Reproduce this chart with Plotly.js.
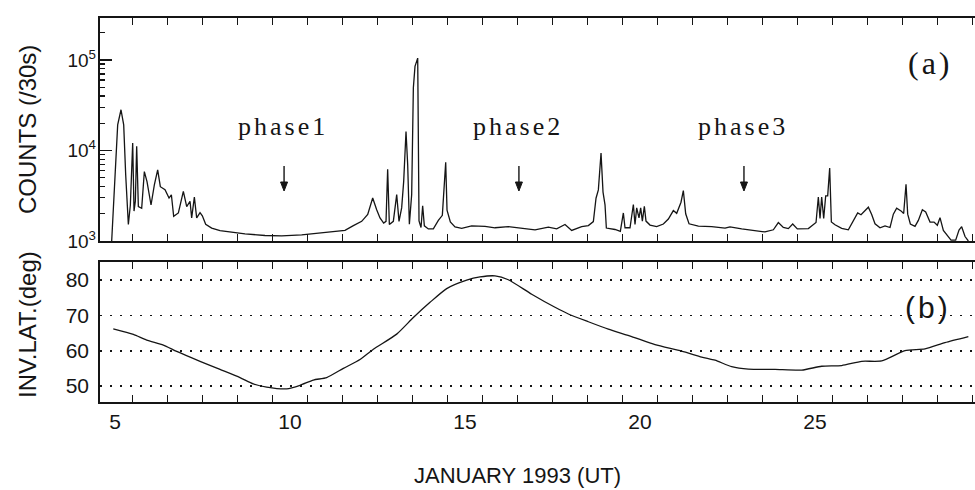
<!DOCTYPE html>
<html>
<head>
<meta charset="utf-8">
<script src="https://cdn.plot.ly/plotly-3.0.1.min.js"></script>
<style>html,body{margin:0;padding:0;background:#fff;}#chart{width:975px;height:490px;}</style>
</head>
<body>
<div id="chart"></div>
<script>
// ---- data ----
const countDays = [4.905, 4.98, 5.076, 5.171, 5.248, 5.305, 5.381, 5.438, 5.505, 5.543,
  5.581, 5.619, 5.667, 5.762, 5.838, 5.914, 6.029, 6.124, 6.219, 6.295,
  6.429, 6.543, 6.61, 6.676, 6.81, 6.952, 7.048, 7.143, 7.19, 7.267,
  7.333, 7.429, 7.495, 7.59, 7.762, 8.0, 8.333, 8.714, 9.286, 9.762,
  10.333, 10.905, 11.571, 11.81, 12.048, 12.22, 12.362, 12.476, 12.571, 12.676,
  12.743, 12.79, 12.838, 12.952, 13.048, 13.114, 13.19, 13.248, 13.314, 13.362,
  13.41, 13.476, 13.524, 13.571, 13.648, 13.686, 13.743, 13.79, 13.838, 13.952,
  14.095, 14.238, 14.352, 14.448, 14.486, 14.581, 14.714, 14.905, 15.19, 15.571,
  15.857, 16.238, 16.524, 16.81,
  17.0, 17.381, 17.619, 17.857, 18.048, 18.333, 18.524, 18.667, 18.743, 18.81,
  18.886, 18.943, 19.0, 19.038, 19.286, 19.438, 19.524, 19.571, 19.714, 19.81,
  19.857, 19.905, 19.971, 20.019, 20.067, 20.124, 20.171, 20.286, 20.476, 20.667,
  20.81, 20.952, 21.048, 21.171, 21.238, 21.305, 21.4, 21.667, 22.048, 22.429,
  22.571, 22.905, 23.286, 23.571, 23.81, 23.952, 24.095, 24.238, 24.362, 24.495,
  24.81, 25.029, 25.095, 25.143, 25.19, 25.248, 25.305, 25.362, 25.419, 25.467,
  25.571, 25.762, 25.952, 26.124, 26.219, 26.314, 26.429, 26.524, 26.619, 26.714,
  26.857, 27.0, 27.143, 27.238, 27.333, 27.457, 27.533, 27.6, 27.648, 27.724,
  27.857, 27.952, 28.067, 28.162, 28.286, 28.4, 28.495, 28.571, 28.667, 28.762,
  28.886, 29.019, 29.114, 29.19, 29.286, 29.381];
const counts = [1000, 3520, 19200, 28200, 19200, 5400, 1520, 2500, 12100, 2140,
  2760, 11100, 2400, 2300, 5850, 4540, 2500, 4170, 6100, 3980,
  3680, 2980, 3240, 1870, 2040, 3530, 2400, 2750, 1800, 3050,
  1800, 2060, 1900, 1530, 1390, 1300, 1250, 1200, 1150, 1140,
  1170, 1240, 1310, 1480, 1650, 1960, 2990, 2220, 1800, 1580,
  1650, 6200, 1520, 1650, 3260, 1650, 2320, 4560, 16200, 6960,
  1530, 3270, 49400, 85000, 105000, 1670, 1410, 2450, 1470, 1360,
  1360, 1690, 1920, 7430, 2190, 1620, 1430, 1380, 1470, 1450,
  1400, 1440, 1400, 1350,
  1330, 1420, 1360, 1520, 1310, 1440, 1480, 1640, 2970, 3670,
  9350, 3470, 2510, 1390, 1340, 1280, 2040, 1400, 1400, 2530,
  1520, 2320, 1800, 2320, 1660, 2420, 1660, 1500, 1440, 1540,
  1750, 2170, 2020, 2680, 3610, 2000, 1550, 1460, 1440, 1390,
  1430, 1360, 1290, 1260, 1330, 1600, 1410, 1370, 1540, 1360,
  1370, 1600, 3060, 1770, 3060, 1770, 3160, 3160, 6400, 1620,
  1510, 1380, 1330, 1720, 2040, 1950, 2160, 2360, 1960, 1550,
  1400, 1470, 1410, 1980, 2300, 2150, 2010, 4240, 1980, 1540,
  1450, 1690, 2210, 2090, 1620, 1620, 1490, 1810, 1310, 1160,
  1020, 1020, 1320, 1440, 1120, 1000];

const latDays = [4.95, 5.524, 5.905, 6.381, 6.762, 7.429, 8.0, 8.571, 8.952, 9.333,
  9.905, 10.286, 10.667, 11.048, 11.524, 12.0, 12.381, 13.048, 13.524, 14.0,
  14.476, 15.048, 15.429, 15.857, 16.238, 16.905, 17.571, 17.952, 18.524, 19.095,
  19.762, 20.429, 21.19, 21.762, 22.143, 22.619, 23.095, 23.857, 24.619, 25.19,
  25.762, 26.333, 26.905, 27.571, 28.143, 28.714, 29.381];
const invLat = [66.2, 64.6, 63.0, 61.6, 59.8, 57.0, 54.7, 52.4, 50.6, 49.7,
  49.2, 50.2, 51.7, 52.4, 55.0, 57.5, 60.4, 64.7, 69.4, 73.7,
  77.6, 80.0, 80.9, 81.2, 80.1, 76.0, 72.3, 70.4, 68.2, 66.1,
  64.0, 61.7, 59.9, 58.2, 57.3, 55.5, 54.8, 54.7, 54.5, 55.6,
  55.8, 57.0, 57.1, 60.0, 60.5, 62.3, 64.0];

const dayTicks = [5, 10, 15, 20, 25];
const dayLabels = ['5', '10', '15', '20', '25'];
const countDecades = [1e3, 1e4, 1e5];
const countLabels = ['10<sup>3</sup>', '10<sup>4</sup>', '10<sup>5</sup>'];
const countMinorTicks = [2e3, 3e3, 4e3, 5e3, 6e3, 7e3, 8e3, 9e3,
  2e4, 3e4, 4e4, 5e4, 6e4, 7e4, 8e4, 9e4, 2e5];
const latTicks = [50, 60, 70, 80];
const latLabels = ['50', '60', '70', '80'];
const phaseDays = [9.83, 16.54, 22.97];
const phaseLabels = ['phase1', 'phase2', 'phase3'];

// ---- styling ----
const INK = '#151515';
const SANS = 'Liberation Sans, Arial, Helvetica, sans-serif';
const SERIF = 'Liberation Serif, Times New Roman, serif';
const XRANGE = [4.571, 29.571];

const traces = [
  {x: countDays, y: counts, type: 'scatter', mode: 'lines', xaxis: 'x', yaxis: 'y',
   line: {color: INK, width: 1.3}, hoverinfo: 'skip'},
  {x: latDays, y: invLat, type: 'scatter', mode: 'lines', xaxis: 'x2', yaxis: 'y2',
   line: {color: INK, width: 1.3, shape: 'spline', smoothing: 0.6}, hoverinfo: 'skip'},
  // empty traces that only register the overlay label axes
  {x: [], y: [], type: 'scatter', mode: 'lines', xaxis: 'x', yaxis: 'y3', hoverinfo: 'skip'},
  {x: [], y: [], type: 'scatter', mode: 'lines', xaxis: 'x3', yaxis: 'y2', hoverinfo: 'skip'}
];

// day-boundary tick marks sit half a day after each labelled day
const xCommon = {
  range: XRANGE, showline: true, linecolor: INK, linewidth: 1.8,
  mirror: 'ticks', showgrid: false, zeroline: false, showticklabels: false,
  tickmode: 'linear', tick0: 5.5, dtick: 1,
  ticks: 'inside', ticklen: 7, tickwidth: 1.5, tickcolor: INK
};

const H = 490, T = 18, B = 88, PH = H - T - B;   // plot-area pixels
const py = v => (H - B - v) / PH;                 // pixel y -> paper
const px = v => (v - 100) / 875;                  // pixel x -> paper

const ann = (text, x, y, font, extra) => Object.assign({
  text: text, xref: 'paper', yref: 'paper', x: x, y: y, showarrow: false,
  xanchor: 'center', yanchor: 'middle', font: font}, extra || {});

const annotations = [];
const shapes = [];
phaseLabels.forEach((t, i) => {
  annotations.push(ann('<span style="letter-spacing:3px">' + t + '</span>', phaseDays[i] - 0.02, py(126),
    {family: SERIF, size: 26, color: INK}, {xref: 'x'}));
  shapes.push({type: 'line', xref: 'x', yref: 'paper', x0: phaseDays[i], x1: phaseDays[i],
    y0: py(166), y1: py(188), line: {color: INK, width: 1.4}});
  shapes.push({type: 'path', xref: 'x', yref: 'paper',
    path: 'M ' + (phaseDays[i] - 0.1) + ' ' + py(182) + ' L ' + phaseDays[i] + ' ' + py(191) +
          ' L ' + (phaseDays[i] + 0.1) + ' ' + py(182) + ' Z',
    fillcolor: INK, line: {color: INK, width: 1}});
});
annotations.push(ann('<span style="letter-spacing:3px">(a)</span>', px(930), py(63), {family: SERIF, size: 32, color: INK}));
annotations.push(ann('<span style="letter-spacing:3px">(b)</span>', px(928), py(307), {family: SANS, size: 30, color: INK}));
annotations.push(ann('COUNTS (/30s)', px(27), py(130), {family: SANS, size: 24, color: INK}, {textangle: -90}));
annotations.push(ann('INV.LAT.(deg)', px(27), py(325), {family: SANS, size: 24, color: INK}, {textangle: -90}));
annotations.push(ann('JANUARY 1993 (UT)', px(517), py(475), {family: SANS, size: 22, color: INK}));

const yTopDomain = [(402 - 241) / PH, 1];
const layout = {
  width: 975, height: 490,
  margin: {l: 100, r: 0, t: T, b: B, pad: 0},
  paper_bgcolor: '#ffffff', plot_bgcolor: '#ffffff', showlegend: false,
  font: {family: SANS, color: INK},
  xaxis: Object.assign({}, xCommon, {anchor: 'y'}),
  yaxis: {
    domain: yTopDomain, type: 'log', range: [3, 5.464],
    showline: true, linecolor: INK, linewidth: 1.8, zeroline: false, showgrid: false,
    tickmode: 'array', tickvals: countMinorTicks, showticklabels: false,
    ticks: 'inside', ticklen: 5, tickwidth: 1.3, tickcolor: INK
  },
  yaxis3: {
    overlaying: 'y', anchor: 'x', side: 'left', type: 'log', range: [3, 5.464],
    showline: false, zeroline: false, showgrid: false,
    tickmode: 'array', tickvals: countDecades, ticktext: countLabels,
    ticks: 'inside', ticklen: 12, tickwidth: 1.5, tickcolor: INK,
    tickfont: {family: SANS, size: 19, color: INK}, ticklabelstandoff: 3
  },
  xaxis2: Object.assign({}, xCommon, {anchor: 'y2'}),
  xaxis3: {
    overlaying: 'x2', anchor: 'y2', side: 'bottom', range: XRANGE,
    showline: false, zeroline: false, showgrid: false, ticks: '',
    tickmode: 'array', tickvals: dayTicks, ticktext: dayLabels,
    tickfont: {family: SANS, size: 21, color: INK}, ticklabelstandoff: 5
  },
  yaxis2: {
    domain: [0, 140 / PH], range: [45.47, 85.13],
    showline: true, linecolor: INK, linewidth: 1.8, zeroline: false,
    tickmode: 'array', tickvals: latTicks, ticktext: latLabels, ticks: '',
    tickfont: {family: SANS, size: 21, color: INK}, ticklabelstandoff: 5,
    showgrid: true, gridcolor: INK, gridwidth: 1.6, griddash: '2px,8px'
  },
  annotations: annotations,
  shapes: shapes
};

Plotly.newPlot('chart', traces, layout, {displayModeBar: false, staticPlot: true});
</script>
</body>
</html>
